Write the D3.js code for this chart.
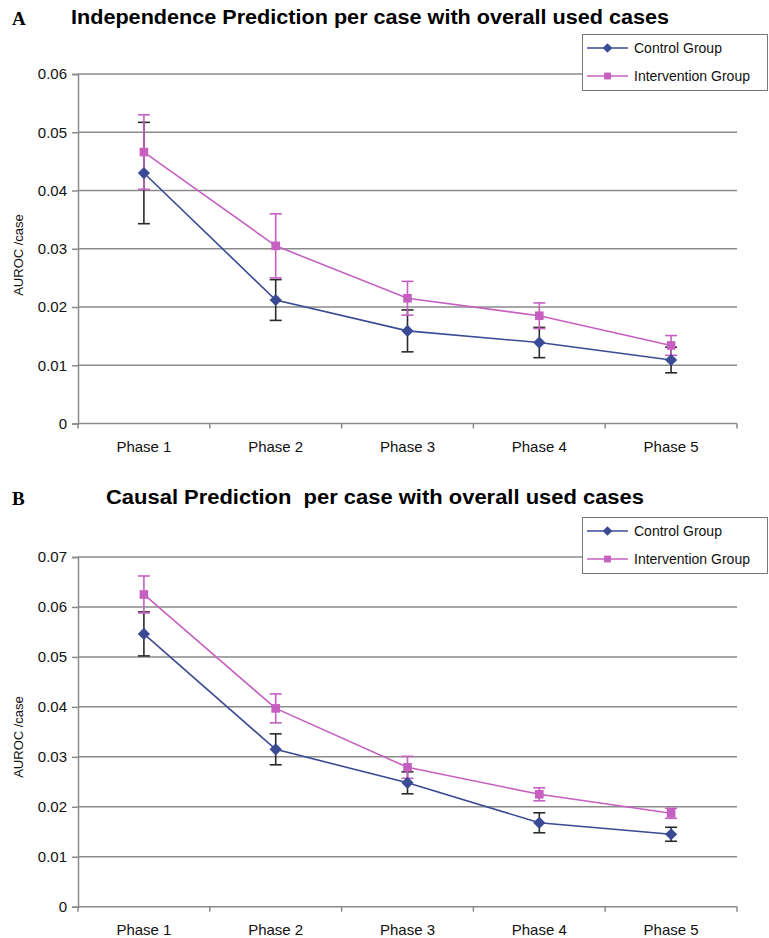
<!DOCTYPE html>
<html>
<head>
<meta charset="utf-8">
<script src="https://cdn.jsdelivr.net/npm/d3@7"></script>
<style>
  body { margin: 0; background: #fff; }
  svg { display: block; font-family: "Liberation Sans", Arial, sans-serif; }
</style>
</head>
<body>
<div id="chart"></div>
<script>
// categories shared by both panels
var phases = ["Phase 1", "Phase 2", "Phase 3", "Phase 4", "Phase 5"];
var seriesNames = ["Control Group", "Intervention Group"];

// panel A: independence prediction (mean and +/- error)
var indepControl = [0.0430, 0.0212, 0.0159, 0.0139, 0.0109];
var indepControlErr = [0.0087, 0.0035, 0.0036, 0.0026, 0.0022];
var indepInterv = [0.0466, 0.0305, 0.0215, 0.0185, 0.0134];
var indepIntervErr = [0.0064, 0.0055, 0.0029, 0.0022, 0.0017];
var indepTicks = [0, 0.01, 0.02, 0.03, 0.04, 0.05, 0.06];

// panel B: causal prediction
var causalControl = [0.0546, 0.0315, 0.0248, 0.0168, 0.0145];
var causalControlErr = [0.0044, 0.0031, 0.0022, 0.0020, 0.0014];
var causalInterv = [0.0625, 0.0397, 0.0279, 0.0225, 0.0187];
var causalIntervErr = [0.0037, 0.0029, 0.0022, 0.0013, 0.0010];
var causalTicks = [0, 0.01, 0.02, 0.03, 0.04, 0.05, 0.06, 0.07];

var width = 769, height = 938;
var blue = "#3b4a94", pink = "#c660c0";

var svg = d3.select("#chart").append("svg")
    .attr("width", width)
    .attr("height", height);

var tickFormat = function (d) { return d === 0 ? "0" : d3.format(".2f")(d); };

// draws one panel; top = y of the highest gridline, bottom = y of zero line
function drawPanel(o) {
    var g = svg.append("g");

    var x = d3.scaleBand().domain(phases).range([78, 737]);
    var y = d3.scaleLinear()
        .domain([0, d3.max(o.ticks)])
        .range([o.bottom, o.top]);

    // panel letter and title
    g.append("text")
        .attr("x", 12).attr("y", o.titleY + 1)
        .style("font-family", "'Liberation Serif', 'Times New Roman', serif")
        .style("font-weight", "bold")
        .style("font-size", "19px")
        .text(o.letter);
    g.append("text")
        .attr("x", o.titleX).attr("y", o.titleY)
        .style("font-weight", "bold")
        .style("font-size", "20px")
        .style("white-space", "pre")
        .attr("xml:space", "preserve")
        .attr("textLength", o.titleW)
        .attr("lengthAdjust", "spacingAndGlyphs")
        .text(o.title);

    // gridlines
    g.append("g").selectAll("line")
        .data(o.ticks.filter(function (d) { return d > 0; }))
        .enter().append("line")
        .attr("x1", 78).attr("x2", 737)
        .attr("y1", function (d) { return y(d); })
        .attr("y2", function (d) { return y(d); })
        .attr("stroke", "#8a8a8a")
        .attr("stroke-width", 1.5);

    // y axis
    var yAxis = g.append("g")
        .attr("transform", "translate(78,0)")
        .call(d3.axisLeft(y).tickValues(o.ticks).tickFormat(tickFormat).tickSize(6).tickPadding(5));
    yAxis.select(".domain").attr("stroke", "#8a8a8a").attr("stroke-width", 1.5);
    yAxis.selectAll(".tick line").attr("stroke", "#8a8a8a").attr("stroke-width", 1.5);
    yAxis.selectAll(".tick text")
        .style("font-size", "15px").attr("fill", "#111")
        .style("font-family", "'Liberation Sans', Arial, sans-serif");

    // x axis with ticks on band boundaries
    var xAxis = g.append("g")
        .attr("transform", "translate(0," + o.bottom + ")");
    xAxis.append("line")
        .attr("x1", 78).attr("x2", 737)
        .attr("stroke", "#8a8a8a").attr("stroke-width", 1.5);
    xAxis.selectAll(".btick")
        .data(phases.concat(["end"]))
        .enter().append("line")
        .attr("class", "btick")
        .attr("x1", function (d, i) { return 78 + i * x.step(); })
        .attr("x2", function (d, i) { return 78 + i * x.step(); })
        .attr("y1", 0).attr("y2", 5)
        .attr("stroke", "#8a8a8a").attr("stroke-width", 1.5);
    xAxis.selectAll(".xlab")
        .data(phases)
        .enter().append("text")
        .attr("class", "xlab")
        .attr("x", function (d) { return x(d) + x.bandwidth() / 2; })
        .attr("y", 28)
        .attr("text-anchor", "middle")
        .style("font-size", "15px")
        .attr("fill", "#111")
        .text(function (d) { return d; });

    // y axis label
    g.append("text")
        .attr("transform", "translate(23," + o.labelY + ") rotate(-90)")
        .attr("text-anchor", "middle")
        .style("font-size", "13px")
        .attr("fill", "#111")
        .text("AUROC /case");

    var cx = function (d, i) { return x(phases[i]) + x.bandwidth() / 2; };
    var line = d3.line()
        .x(function (d, i) { return cx(d, i); })
        .y(function (d) { return y(d); });

    var series = [
        { vals: o.control, err: o.controlErr, color: blue, errColor: "#2a2a2a", shape: d3.symbolDiamond2, size: 95 },
        { vals: o.interv, err: o.intervErr, color: pink, errColor: pink, shape: d3.symbolSquare2, size: 95 }
    ];

    series.forEach(function (s) {
        g.append("path")
            .datum(s.vals)
            .attr("d", line)
            .attr("fill", "none")
            .attr("stroke", s.color)
            .attr("stroke-width", 1.6);
    });

    series.forEach(function (s) {
        var eb = g.append("g").selectAll("g")
            .data(s.vals).enter().append("g")
            .attr("stroke", s.errColor)
            .attr("stroke-width", 1.6);
        eb.append("line")
            .attr("x1", cx).attr("x2", cx)
            .attr("y1", function (d, i) { return y(d + s.err[i]); })
            .attr("y2", function (d, i) { return y(d - s.err[i]); });
        [1, -1].forEach(function (sign) {
            eb.append("line")
                .attr("x1", function (d, i) { return cx(d, i) - 6; })
                .attr("x2", function (d, i) { return cx(d, i) + 6; })
                .attr("y1", function (d, i) { return y(d + sign * s.err[i]); })
                .attr("y2", function (d, i) { return y(d + sign * s.err[i]); });
        });
    });

    series.forEach(function (s) {
        g.append("g").selectAll("path")
            .data(s.vals).enter().append("path")
            .attr("d", d3.symbol().type(s.shape).size(s.size))
            .attr("transform", function (d, i) { return "translate(" + cx(d, i) + "," + y(d) + ")"; })
            .attr("fill", s.color)
            .attr("stroke", "none");
    });

    // legend
    var lg = g.append("g").attr("transform", "translate(582," + (o.top - 40) + ")");
    lg.append("rect")
        .attr("x", 0.5).attr("y", 0.5)
        .attr("width", 185).attr("height", 56)
        .attr("fill", "#fff")
        .attr("stroke", "#777");
    series.forEach(function (s, k) {
        var ly = 14 + k * 28;
        lg.append("line")
            .attr("x1", 5).attr("x2", 46)
            .attr("y1", ly).attr("y2", ly)
            .attr("stroke", s.color).attr("stroke-width", 1.6);
        lg.append("path")
            .attr("d", d3.symbol().type(s.shape).size(60))
            .attr("transform", "translate(25.5," + ly + ")")
            .attr("fill", s.color);
        lg.append("text")
            .attr("x", 52).attr("y", ly + 5)
            .style("font-size", "14px")
            .attr("fill", "#111")
            .text(seriesNames[k]);
    });
}

drawPanel({
    letter: "A",
    title: "Independence Prediction per case with overall used cases",
    titleX: 71, titleY: 24, titleW: 598,
    top: 74, bottom: 423.5, labelY: 255,
    ticks: indepTicks,
    control: indepControl, controlErr: indepControlErr,
    interv: indepInterv, intervErr: indepIntervErr
});

drawPanel({
    letter: "B",
    title: "Causal Prediction  per case with overall used cases",
    titleX: 106, titleY: 504, titleW: 538,
    top: 557, bottom: 906.7, labelY: 737,
    ticks: causalTicks,
    control: causalControl, controlErr: causalControlErr,
    interv: causalInterv, intervErr: causalIntervErr
});
</script>
</body>
</html>
